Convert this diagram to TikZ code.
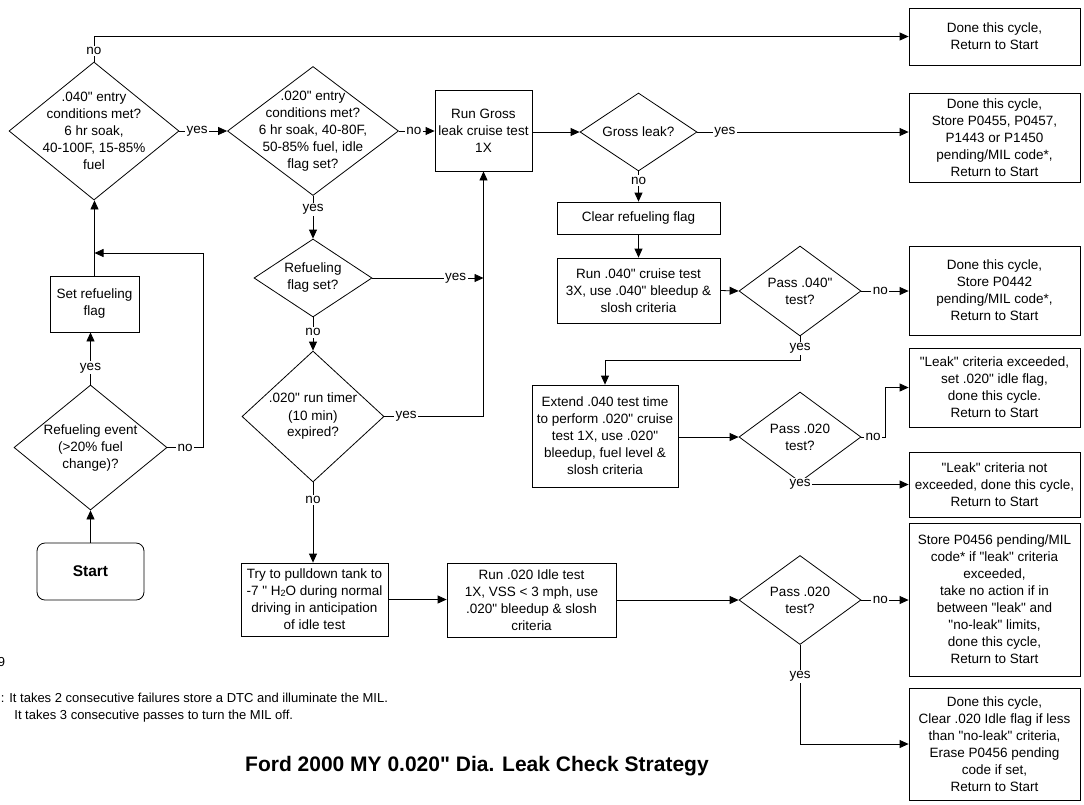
\documentclass[tikz,border=0pt]{standalone}
\usepackage{fontspec}
\setmainfont{Liberation Sans}[Ligatures=TeXOff]
\usetikzlibrary{arrows.meta,shapes.geometric}
\begin{document}
\begin{tikzpicture}[x=1pt,y=-1pt,
  every node/.style={font=\fontsize{13.5}{17}\selectfont},
  box/.style 2 args={draw, rectangle, minimum width=#1, minimum height=#2, inner sep=0pt, align=center},
  dia/.style 2 args={draw, diamond, minimum width=#1, minimum height=#2, inner sep=0pt},
  txt/.style={align=center, inner sep=0pt},
  lbl/.style={fill=white, inner sep=1.5pt},
  arr/.style={-{Triangle[length=9pt,width=8pt]}},
  line width=0.8pt]
\useasboundingbox (0,0) rectangle (1084,804);

% left column
\node[dia={170pt}{138pt}] (d1) at (94,131) {};
\node[txt] (d1t) at (d1) {.040" entry\\conditions met?\\6 hr soak,\\40-100F, 15-85\%\\fuel};
\node[box={89pt}{56pt}] (sb) at (94.5,304) {Set refueling\\flag};
\node[dia={153pt}{125pt}] (re) at (90.5,447.5) {};
\node[txt] (ret) at (re) {Refueling event\\(>20\% fuel\\change)?};
\node[box={107pt}{57pt}, rounded corners=8pt, font=\fontsize{15.5}{18}\selectfont\bfseries] (start) at (90.5,571.5) {Start};

% middle column
\node[dia={171pt}{129pt}] (d2) at (313,131) {};
\node[txt] (d2t) at (d2) {.020" entry\\conditions met?\\6 hr soak, 40-80F,\\50-85\% fuel, idle\\flag set?};
\node[dia={118pt}{78pt}] (rf) at (313,278) {};
\node[txt] (rft) at (rf) {Refueling\\flag set?};
\node[dia={142pt}{131pt}] (timer) at (313,416.5) {};
\node[txt] (timert) at (timer) {.020" run timer\\(10 min)\\expired?};
\node[box={147pt}{73pt}] (pull) at (314.5,599.5) {Try to pulldown tank to\\-7 " H\raisebox{-1pt}{\fontsize{9}{9}\selectfont 2}O during normal\\driving in anticipation\\of idle test};

% centre
\node[box={97pt}{81pt}] (gross) at (483.5,130.5) {Run Gross\\leak cruise test\\1X};
\node[dia={117pt}{78pt}] (gl) at (638.5,132) {};
\node[txt] (glt) at (gl) {Gross leak?};
\node[box={163pt}{32pt}] (clear) at (638.5,218) {Clear refueling flag};
\node[box={163pt}{65pt}] (run040) at (638.5,290.5) {Run .040" cruise test\\3X, use .040" bleedup \&\\slosh criteria};
\node[dia={122pt}{90pt}] (p040) at (800,291) {};
\node[txt] (p040t) at (p040) {Pass .040"\\test?};
\node[box={146pt}{102pt}] (extend) at (605,436) {Extend .040 test time\\to perform .020" cruise\\test 1X, use .020"\\bleedup, fuel level \&\\slosh criteria};
\node[dia={122pt}{90pt}] (p020a) at (800,437) {};
\node[txt] (p020at) at (p020a) {Pass .020\\test?};
\node[box={169pt}{74pt}] (idle) at (531.5,600) {Run .020 Idle test\\1X, VSS < 3 mph, use\\.020" bleedup \& slosh\\criteria};
\node[dia={122pt}{89pt}] (p020b) at (800,600) {};
\node[txt] (p020bt) at (p020b) {Pass .020\\test?};

% right column
\node[box={171pt}{57pt}] (done1) at (994.5,36.5) {Done this cycle,\\Return to Start};
\node[box={171pt}{89pt}] (done2) at (994.5,137.5) {Done this cycle,\\Store P0455, P0457,\\P1443 or P1450\\pending/MIL code*,\\Return to Start};
\node[box={171pt}{89pt}] (done3) at (994.5,290.5) {Done this cycle,\\Store P0442\\pending/MIL code*,\\Return to Start};
\node[box={171pt}{79pt}] (done4) at (994.5,387.5) {"Leak" criteria exceeded,\\set .020" idle flag,\\done this cycle.\\Return to Start};
\node[box={171pt}{65pt}] (done5) at (994.5,484.5) {"Leak" criteria not\\exceeded, done this cycle,\\Return to Start};
\node[box={171pt}{153pt}] (done6) at (994.5,599.5) {Store P0456 pending/MIL\\code* if "leak" criteria\\exceeded,\\take no action if in\\between "leak" and\\"no-leak" limits,\\done this cycle,\\Return to Start};
\node[box={171pt}{112pt}] (done7) at (994.5,744) {Done this cycle,\\Clear .020 Idle flag if less\\than "no-leak" criteria,\\Erase P0456 pending\\code if set,\\Return to Start};

% notes and title
\node[anchor=base east, inner sep=0pt, font=\fontsize{13}{17}\selectfont] (n0) at (5.5,666) {9};
\node[anchor=base west, inner sep=0pt, font=\fontsize{13}{17}\selectfont] (n1) at (0.5,702.5) {: It takes 2 consecutive failures store a DTC and illuminate the MIL.};
\node[anchor=base west, inner sep=0pt, font=\fontsize{13}{17}\selectfont] (n2) at (14,719.5) {It takes 3 consecutive passes to turn the MIL off.};
\node[anchor=base, inner sep=0pt, font=\fontsize{21}{24}\selectfont\bfseries] (title) at (477,771.5) {Ford 2000 MY 0.020" Dia. Leak Check Strategy};

% connectors
\coordinate (loop) at (203,253);
\coordinate (j1) at (800,360);
\coordinate (j2) at (885,437);
\coordinate (j3) at (gross.south |- rf.east);

\draw[arr] (start.north) -- (re.south);
\draw[arr] (re.north) -- node[lbl,pos=0.32]{yes} (re.north |- sb.south);
\draw[arr] (sb.north) -- (sb.north |- d1.south);
\draw[arr] (re.east) -- node[lbl]{no} (re.east -| loop) -- (loop) -- (loop -| sb.north);
\draw[arr] (d1.north) -- node[lbl,pos=0.42]{no} (d1.north |- done1.west) -- (done1.west);
\draw[arr] (d1.east) -- node[lbl,pos=0.37]{yes} (d2.west);
\draw[arr] (d2.east) -- node[lbl,pos=0.42]{no} (gross.west |- d2.east);
\draw[arr] (gross.east |- gl.west) -- (gl.west);
\draw[arr] (gl.east) -- node[lbl,pos=0.13]{yes} (gl.east -| done2.west);
\draw[arr] (gl.south) -- node[lbl,pos=0.3]{no} (clear.north);
\draw[arr] (clear.south) -- (run040.north);
\draw[arr] (run040.east) -- (p040.west);
\draw[arr] (p040.east) -- node[lbl,pos=0.4]{no} (p040.east -| done3.west);
\draw[arr] (p040.south) -- node[lbl]{yes} (j1) -| (extend.north);
\draw[arr] (extend.east |- p020a.west) -- (p020a.west);
\draw[arr] (p020a.east) -- node[lbl]{no} (j2) |- (done4.west);
\draw[arr] (p020a.south) |- node[lbl,pos=0.5]{yes} (done5.west);
\draw[arr] (p020b.east) -- node[lbl,pos=0.4]{no} (p020b.east -| done6.west);
\draw[arr] (p020b.south) |- node[lbl,pos=0.16]{yes} (done7.west);
\draw[arr] (d2.south) -- node[lbl,pos=0.31]{yes} (rf.north);
\draw[arr] (rf.south) -- node[lbl,pos=0.45]{no} (timer.north);
\draw[arr] (rf.east) -- node[lbl,pos=0.75]{yes} (j3);
\draw[arr] (timer.east) -- node[lbl,pos=0.22]{yes} (timer.east -| gross.south) -- (gross.south);
\draw[arr] (timer.south) -- node[lbl,pos=0.22]{no} (timer.south |- pull.north);
\draw[arr] (pull.east) -- (pull.east -| idle.west);
\draw[arr] (idle.east) -- (p020b.west);
\end{tikzpicture}
\end{document}
